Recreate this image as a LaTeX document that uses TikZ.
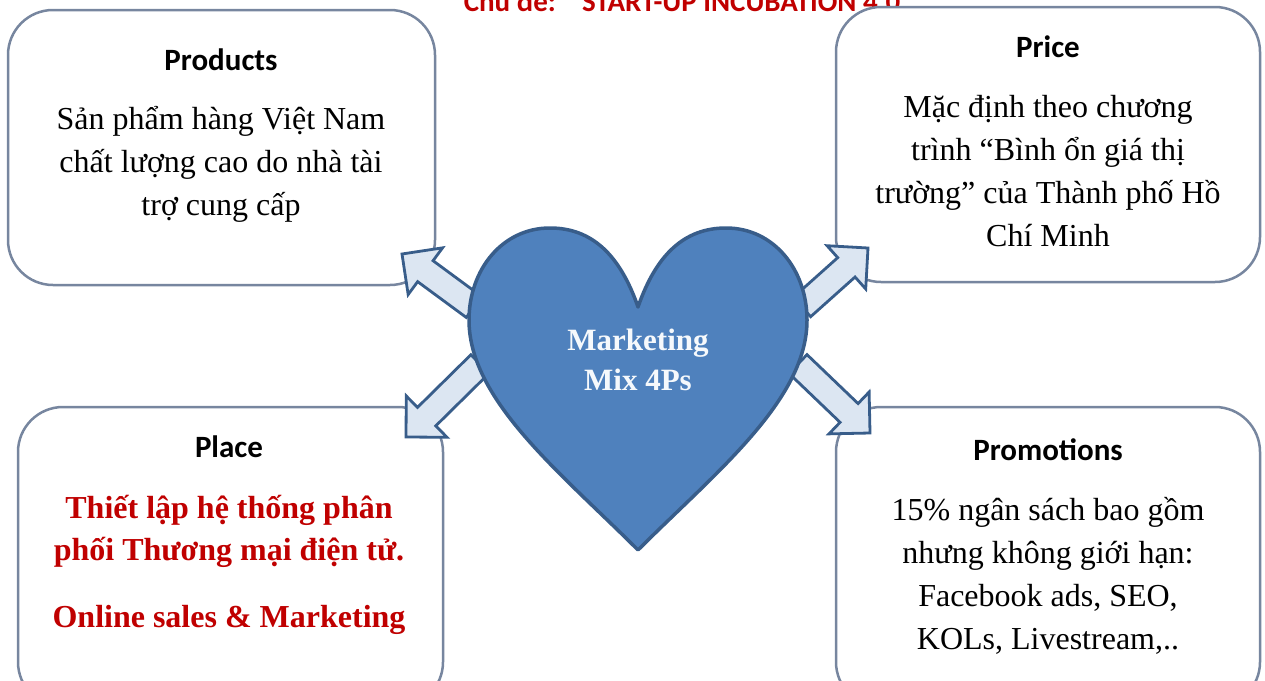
\documentclass[tikz,border=0pt]{standalone}
\usepackage{fontspec}
\setmainfont{Liberation Serif}
\newfontfamily\calibfont{Carlito}
\usetikzlibrary{calc}
\definecolor{heartblue}{HTML}{4F81BD}
\definecolor{heartline}{HTML}{385D8A}
\definecolor{arrowfill}{HTML}{DCE6F2}
\definecolor{boxline}{HTML}{77869F}
\definecolor{topicred}{HTML}{C00000}
\tikzset{
  pbox/.style={draw=boxline, line width=2.5pt, fill=white, rounded corners=45pt},
  ptitle/.style={font=\calibfont\bfseries\fontsize{31}{37}\selectfont},
  pbody/.style={align=center, font=\fontsize{32}{43}\selectfont},
  redbody/.style={align=center, text=topicred, font=\bfseries\fontsize{32}{42}\selectfont},
  topic/.style={text=topicred, font=\calibfont\bfseries\fontsize{29}{35}\selectfont},
  arrowbox/.style={draw=heartline, fill=arrowfill, line width=2.8pt, line join=miter},
}
% block arrow from tail #1 to tip #2
\newcommand\blockarrow[2]{%
  \coordinate (hb) at ($(#2)!29pt!(#1)$);
  \draw[arrowbox] ($(#1)!13pt!90:(#2)$) -- ($(hb)!13pt!90:(#2)$)
    -- ($(hb)!29pt!90:(#2)$) -- (#2) -- ($(hb)!29pt!-90:(#2)$)
    -- ($(hb)!13pt!-90:(#2)$) -- ($(#1)!13pt!-90:(#2)$) -- cycle;
}
\begin{document}
\begin{tikzpicture}[x=1pt, y=-1pt, line join=round]
  \useasboundingbox (0,0) rectangle (1265,680);
  %\draw[gray!30] (0,0) grid[step=50] (1265,680);
  \node[topic, anchor=base] (topic) at (682,11) {Chủ đề:\hspace{0.9em}START-UP INCUBATION 4.0};
  % the four P boxes
  \node[pbox, minimum width=427pt, minimum height=275pt] (products) at (221.5,147.5) {};
  \node[pbox, minimum width=424pt, minimum height=275pt] (price) at (1048,144.5) {};
  \node[pbox, minimum width=425pt, minimum height=300pt] (place) at (230.5,557) {};
  \node[pbox, minimum width=424pt, minimum height=300pt] (promotions) at (1048,557) {};
  \node[ptitle] (t1) at (221,60) {Products};
  \node[pbody] (b1) at (221,164) {Sản phẩm hàng Việt Nam\\chất lượng cao do nhà tài\\trợ cung cấp};
  \node[ptitle] (t2) at (1048,47) {Price};
  \node[pbody] (b2) at (1048,171) {Mặc định theo chương\\trình “Bình ổn giá thị\\trường” của Thành phố Hồ\\Chí Minh};
  \node[ptitle] (t3) at (229,447) {Place};
  \node[redbody] (b3) at (229,565) {Thiết lập hệ thống phân\\phối Thương mại điện tử.\\[25pt]Online sales \& Marketing};
  \node[ptitle] (t4) at (1048,450) {Promotions};
  \node[pbody] (b4) at (1048,576) {15\% ngân sách bao gồm\\nhưng không giới hạn:\\Facebook ads, SEO,\\KOLs, Livestream,..};
  % arrows out of the heart
  \coordinate (tail1) at (474,307); \coordinate (tip1) at (402,254);
  \coordinate (tail2) at (802,307); \coordinate (tip2) at (868,248);
  \coordinate (tail3) at (480,364); \coordinate (tip3) at (406,437);
  \coordinate (tail4) at (798,364); \coordinate (tip4) at (870,433);
  \blockarrow{tail1}{tip1}
  \blockarrow{tail2}{tip2}
  \blockarrow{tail3}{tip3}
  \blockarrow{tail4}{tip4}
  % heart
  \draw[draw=heartline, fill=heartblue, line width=3.5pt]
    (638,307) .. controls (620,255) and (592,228) .. (550,228)
    .. controls (502,228) and (469,270) .. (469,320)
    .. controls (469,400) and (560,472) .. (638,550)
    .. controls (716,472) and (807,400) .. (807,320)
    .. controls (807,270) and (774,228) .. (726,228)
    .. controls (684,228) and (656,255) .. (638,307) -- cycle;
  \node[align=center, text=white!95!heartblue, font=\bfseries\fontsize{31}{40}\selectfont] (heart) at (638,360) {Marketing\\Mix 4Ps};
\end{tikzpicture}
\end{document}
